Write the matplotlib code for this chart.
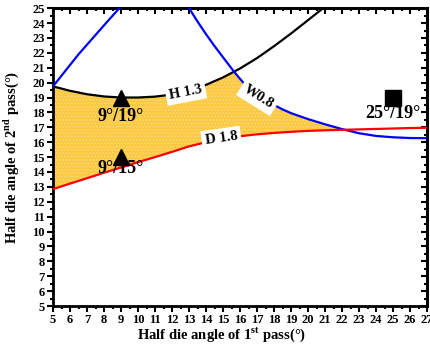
import numpy as np
import matplotlib
matplotlib.use("Agg")
import matplotlib.pyplot as plt
from matplotlib.ticker import MultipleLocator

plt.rcParams['font.family'] = ['Liberation Serif', 'DejaVu Serif']
plt.rcParams['font.weight'] = 'bold'
plt.rcParams['mathtext.fontset'] = 'custom'
plt.rcParams['mathtext.rm'] = 'Liberation Serif:bold'
plt.rcParams['mathtext.bf'] = 'Liberation Serif:bold'

# H 1.3 contour (black)
h_x = [5, 6, 7, 8, 9, 10, 11, 12, 13, 14, 15, 16, 17, 18, 19, 20, 21]
h_y = [19.75, 19.45, 19.22, 19.07, 19.0, 19.0, 19.06, 19.2, 19.45, 19.85,
       20.35, 20.95, 21.65, 22.45, 23.3, 24.2, 25.1]

# W 0.8 contour (blue), two branches leaving the top of the plot
w_left_x = [5, 6.5, 8, 8.9]
w_left_y = [19.75, 21.9, 23.85, 25.0]
w_right_x = [13.0, 13.5, 14, 14.5, 15, 15.6, 16, 16.5, 17, 17.5, 18, 18.5,
             19, 20, 21, 22, 23, 24, 25, 26, 27]
w_right_y = [25.0, 24.1, 23.25, 22.45, 21.7, 20.8, 20.25, 19.6, 19.15, 18.8,
             18.5, 18.2, 17.95, 17.55, 17.2, 16.88, 16.6, 16.42, 16.33, 16.28, 16.27]

# D 1.8 contour (red)
d_x = [5, 6, 7, 8, 9, 10, 11, 12, 13, 14, 15, 16, 17, 18, 19, 20, 21, 22,
       23, 24, 25, 26, 27]
d_y = [12.85, 13.22, 13.58, 13.95, 14.3, 14.66, 15.0, 15.35, 15.72, 16.0,
       16.22, 16.4, 16.53, 16.62, 16.7, 16.76, 16.8, 16.83, 16.86, 16.89,
       16.92, 16.95, 16.97]

# selected die angle pairs
tri_x = [9, 9]
tri_y = [19, 15]
tri_labels = ["9°/19°", "9°/15°"]
tri_label_y = [17.7, 14.25]
sq_x = [25]
sq_y = [19]
sq_labels = ["25°/19°"]
sq_label_y = [17.95]

fig = plt.figure(figsize=(4.31, 3.55), dpi=100)
ax = fig.add_axes([0.123, 0.138, 0.868, 0.839])

# feasible window: below H and W, above D
xs = np.linspace(5, 27, 1200)
upper_h = np.interp(xs, h_x, h_y)
upper_w = np.where(xs < w_right_x[0], np.inf, np.interp(xs, w_right_x, w_right_y))
upper = np.minimum(upper_h, upper_w)
lower = np.interp(xs, d_x, d_y)
ax.fill_between(xs, lower, upper, where=upper > lower, facecolor='#FDC83E',
                edgecolor='#F7D978', hatch='.....', linewidth=0, zorder=1)

ax.plot(h_x, h_y, color='black', lw=1.6, zorder=3)
ax.plot(w_left_x, w_left_y, color='#0000FF', lw=1.6, zorder=3)
ax.plot(w_right_x, w_right_y, color='#0000FF', lw=1.6, zorder=3)
ax.plot(d_x, d_y, color='#FF0000', lw=1.6, zorder=3)

# contour labels sitting on their lines
box = dict(facecolor='white', edgecolor='none', pad=2.5)
ax.text(12.8, 19.36, "H 1.3", fontsize=10.5, rotation=11, ha='center',
        va='center', bbox=box, zorder=4)
ax.text(17.07, 19.03, "W0.8", fontsize=10.5, rotation=-32, ha='center',
        va='center', bbox=box, zorder=4)
ax.text(14.9, 16.25, "D 1.8", fontsize=10.5, rotation=8, ha='center',
        va='center', bbox=box, zorder=4)

ax.plot(tri_x, tri_y, linestyle='none', marker='^', markersize=11,
        color='black', zorder=5)
ax.plot(sq_x, sq_y, linestyle='none', marker='s', markersize=11,
        color='black', zorder=5)
for x, y, s in zip(tri_x, tri_label_y, tri_labels):
    ax.text(x, y, s, fontsize=13, ha='center', va='center', zorder=6)
for x, y, s in zip(sq_x, sq_label_y, sq_labels):
    ax.text(x, y, s, fontsize=13, ha='center', va='center', zorder=6)

ax.set_xlim(5, 27)
ax.set_ylim(5, 25)
ax.xaxis.set_major_locator(MultipleLocator(1))
ax.xaxis.set_minor_locator(MultipleLocator(0.5))
ax.yaxis.set_major_locator(MultipleLocator(1))
ax.yaxis.set_minor_locator(MultipleLocator(0.5))

for sp in ax.spines.values():
    sp.set_linewidth(2)
ax.tick_params(which='both', direction='out', width=1.5, labelsize=9,
               pad=2)
ax.tick_params(which='major', length=4)
ax.tick_params(which='minor', length=2.5)
ax2 = ax.secondary_xaxis('top')
ax2.xaxis.set_major_locator(MultipleLocator(1))
ax2.xaxis.set_minor_locator(MultipleLocator(0.5))
ax2.tick_params(which='both', direction='in', width=1.5, labeltop=False)
ax2.tick_params(which='major', length=4)
ax2.tick_params(which='minor', length=2.5)
ax3 = ax.secondary_yaxis('right')
ax3.yaxis.set_major_locator(MultipleLocator(1))
ax3.yaxis.set_minor_locator(MultipleLocator(0.5))
ax3.tick_params(which='both', direction='in', width=1.5, labelright=False)
ax3.tick_params(which='major', length=4)
ax3.tick_params(which='minor', length=2.5)
for a in (ax2, ax3):
    for sp in a.spines.values():
        sp.set_linewidth(2)

for lab in ax.get_xticklabels() + ax.get_yticklabels():
    lab.set_fontweight('bold')

ax.set_xlabel(r"Half die angle of 1$^{\mathrm{st}}$ pass(°)", fontsize=10.5,
              fontweight='bold')
ax.set_ylabel(r"Half die angle of 2$^{\mathrm{nd}}$ pass(°)", fontsize=10.5,
              fontweight='bold')
ax.xaxis.set_label_coords(0.45, -0.064)
ax.yaxis.set_label_coords(-0.085, 0.5)

fig.savefig("out.png", dpi=100)
